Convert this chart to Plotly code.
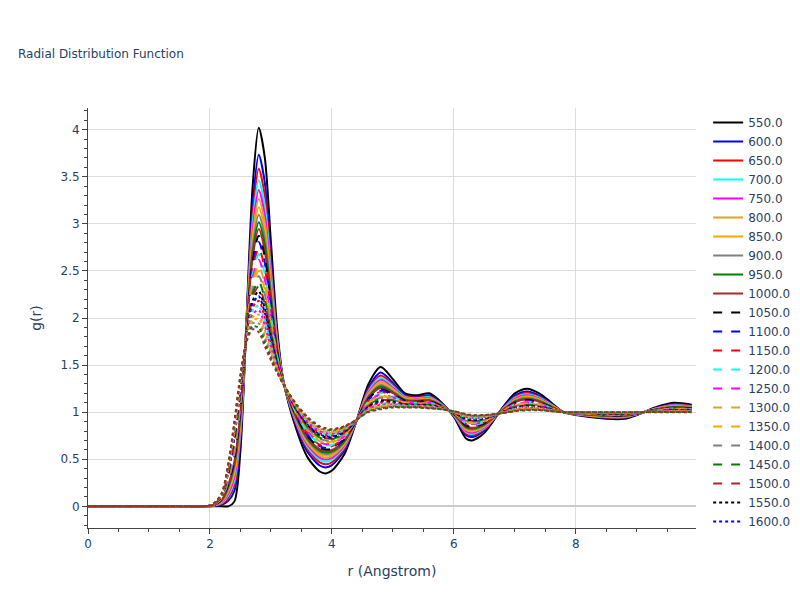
import numpy as np
import plotly.graph_objects as go

temperatures = [550.0 + 50 * i for i in range(30)]

r = [0.0, 0.4, 1.0, 1.5, 1.9, 2.0, 2.1, 2.2, 2.3, 2.4, 2.5, 2.6, 2.7, 2.8, 2.9, 3.0,
     3.1, 3.2, 3.4, 3.6, 3.8, 3.9, 4.0, 4.2, 4.4, 4.6, 4.8, 5.0, 5.2, 5.4, 5.6,
     5.8, 6.0, 6.2, 6.3, 6.5, 6.8, 7.0, 7.2, 7.4, 7.6, 7.8, 8.0, 8.5, 8.8, 9.0,
     9.3, 9.6, 9.9]

g_cold = [0, 0, 0, 0, 0, 0, 0, 0, 0, 0.05, 0.6, 2.0, 3.4, 4.02, 3.7, 2.8,
          1.9, 1.35, 0.85, 0.52, 0.37, 0.35, 0.38, 0.55, 0.9, 1.3, 1.48, 1.35, 1.2, 1.18, 1.2,
          1.1, 0.95, 0.72, 0.7, 0.78, 1.05, 1.2, 1.25, 1.2, 1.1, 1.0, 0.97, 0.93, 0.93, 0.97,
          1.05, 1.1, 1.08]

g_hot = [0, 0, 0, 0, 0, 0.01, 0.05, 0.15, 0.45, 0.9, 1.4, 1.75, 1.88, 1.85, 1.7, 1.55,
         1.42, 1.3, 1.1, 0.95, 0.85, 0.83, 0.82, 0.85, 0.92, 1.0, 1.03, 1.05, 1.05, 1.05, 1.04,
         1.03, 1.01, 0.98, 0.97, 0.97, 0.99, 1.01, 1.02, 1.02, 1.01, 1.0, 1.0, 1.0, 1.0, 1.0,
         1.0, 1.0, 1.0]

colors = ['black', 'blue', 'red', 'cyan', 'magenta', 'goldenrod', 'orange', 'gray', 'green', 'brown']
dashes = ['solid', 'dash', 'dot']

fig = go.Figure()
n = len(temperatures)
for i, t in enumerate(temperatures):
    w = (i / (n - 1)) ** 0.6
    g = (1 - w) * np.array(g_cold) + w * np.array(g_hot)
    fig.add_trace(go.Scatter(
        x=r, y=g, mode='lines', name=str(t),
        line=dict(color=colors[i % 10], dash=dashes[i // 10], width=2, shape='spline', smoothing=0.8),
    ))

fig.update_layout(
    title=dict(text='Radial Distribution Function', font=dict(size=12), x=0.0125),
    template='plotly_white',
    width=800, height=600,
    margin=dict(l=80, r=112, t=100, b=80),
    font=dict(family='Verdana, DejaVu Sans'),
    legend=dict(font=dict(size=12)),
    xaxis=dict(title='r (Angstrom)', range=[0, 9.97], showline=True, linecolor='#444',
               ticks='outside', minor=dict(ticks='outside', ticklen=3), gridcolor='#ddd', zeroline=False),
    yaxis=dict(title='g(r)', range=[-0.23, 4.23], showline=True, linecolor='#444', dtick=0.5,
               ticks='outside', minor=dict(ticks='outside', ticklen=3), gridcolor='#ddd',
               zerolinecolor='#ccc', zerolinewidth=2, automargin=False),
)

fig.write_html("out.html")
